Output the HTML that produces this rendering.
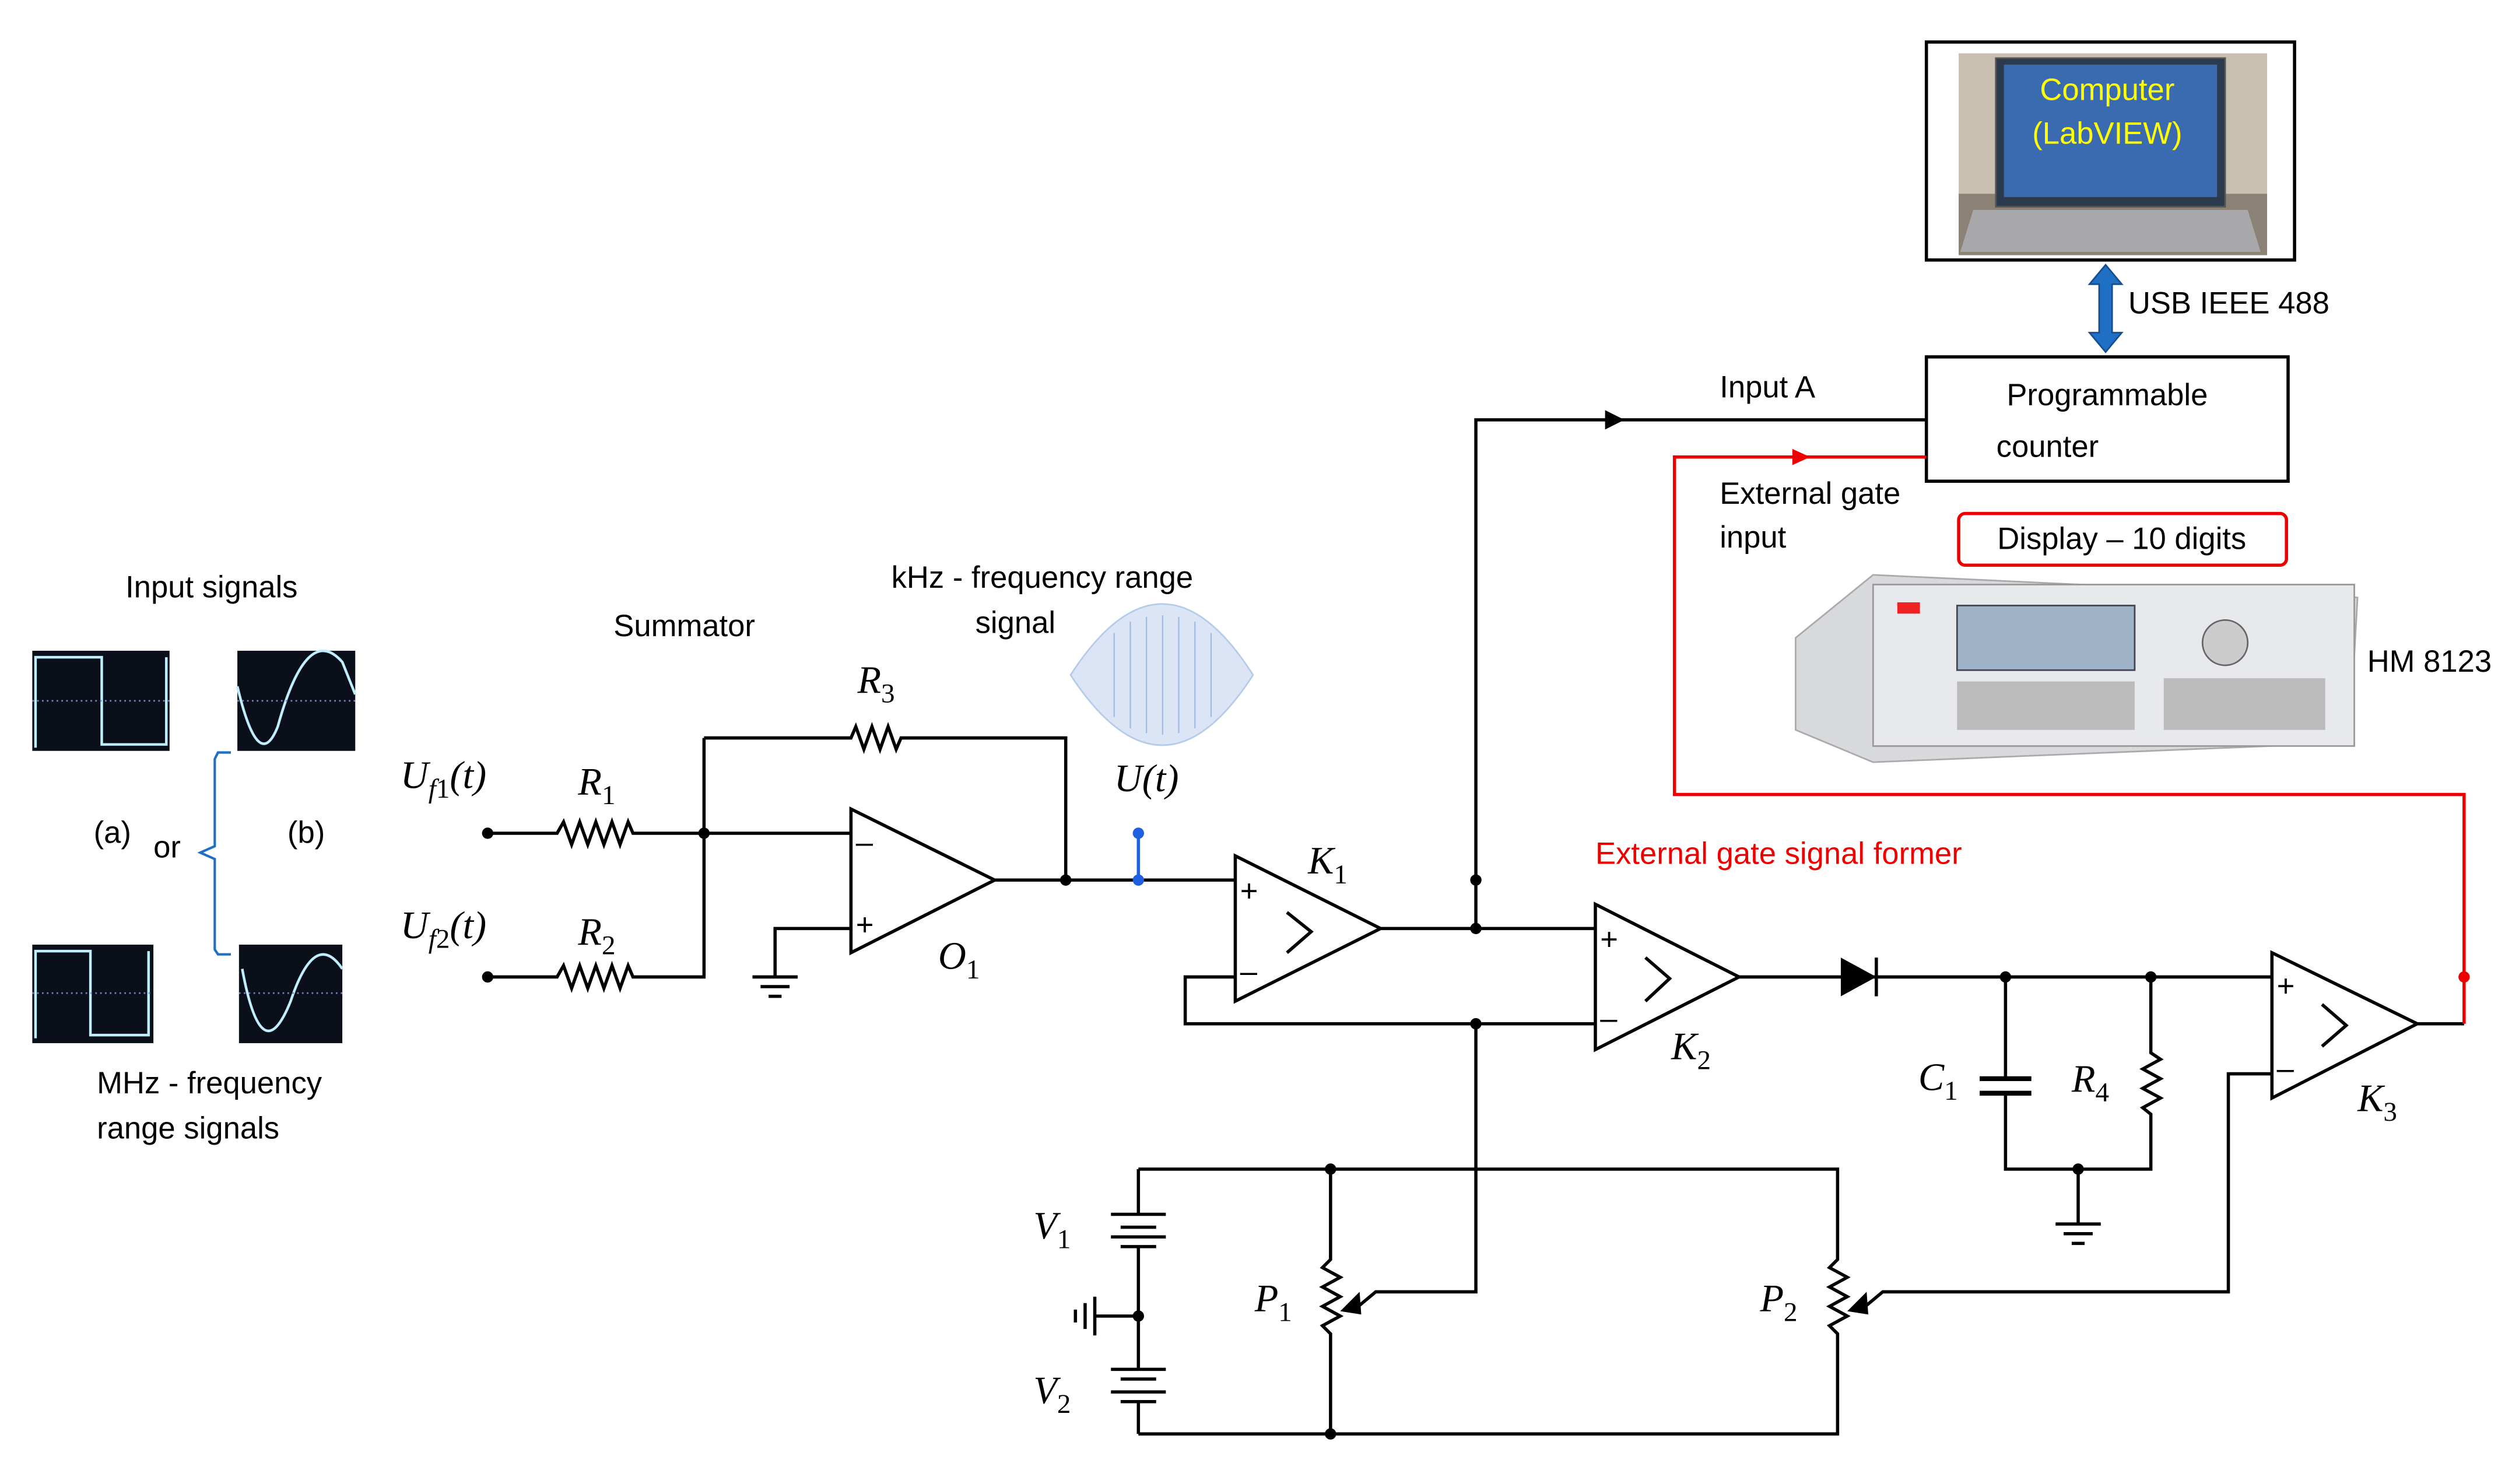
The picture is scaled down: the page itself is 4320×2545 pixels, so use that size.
<!DOCTYPE html>
<html><head><meta charset="utf-8"><style>
html,body{margin:0;padding:0;background:#fff;}
svg{display:block;}
.t{font-family:"Liberation Sans",sans-serif;font-size:19px;fill:#000;}
.m{font-family:"Liberation Serif",serif;font-style:italic;font-size:24px;fill:#000;}
.s{font-family:"Liberation Serif",serif;font-style:italic;font-size:17px;}
</style></head><body>
<svg width="4320" height="2545" viewBox="0 0 1560 919" xmlns="http://www.w3.org/2000/svg">
<rect width="1560" height="919" fill="#fff"/>
<!-- Computer -->
<rect x="1193" y="26" width="228" height="135" fill="#fff" stroke="#000" stroke-width="2"/>
<rect x="1213" y="33" width="191" height="125" fill="#c9bfb0"/>
<rect x="1213" y="120" width="191" height="38" fill="#8b8175"/>
<rect x="1236" y="36" width="142" height="92" fill="#2c3a4e" stroke="#555"/>
<rect x="1241" y="40" width="132" height="82" fill="#3a6ab0"/>
<path d="M1222 130 L1392 130 L1400 156 L1214 156 Z" fill="#a8a8aa"/>
<text x="1305" y="62" text-anchor="middle" class="t" style="fill:#ffff00">Computer</text>
<text x="1305" y="89" text-anchor="middle" class="t" style="fill:#ffff00">(LabVIEW)</text>
<!-- USB arrow -->
<path d="M1300 176 L1300 206 L1294 206 L1304 218 L1314 206 L1308 206 L1308 176 L1314 176 L1304 164 L1294 176 Z" fill="#1f6fc5" stroke="#154e90"/>
<text x="1318" y="194" class="t" font-size="17">USB IEEE 488</text>
<!-- Counter -->
<rect x="1193" y="221" width="224" height="77" fill="#fff" stroke="#000" stroke-width="2"/>
<text x="1305" y="251" text-anchor="middle" class="t" font-size="22">Programmable</text>
<text x="1268" y="283" text-anchor="middle" class="t" font-size="22">counter</text>
<text x="1065" y="246" class="t" font-size="18">Input A</text>
<text x="1065" y="312" class="t" font-size="18">External gate</text>
<text x="1065" y="339" class="t" font-size="18">input</text>
<rect x="1213" y="318" width="203" height="32" rx="4" fill="#fff" stroke="#e00" stroke-width="2"/>
<text x="1314" y="340" text-anchor="middle" class="t" font-size="18">Display – 10 digits</text>
<!-- HM 8123 device -->
<path d="M1112 395 L1160 356 L1460 370 L1455 460 L1160 472 L1112 452 Z" fill="#d8d9dc" stroke="#aaa"/>
<rect x="1160" y="362" width="298" height="100" fill="#e8e9ec" stroke="#999"/>
<rect x="1212" y="375" width="110" height="40" fill="#9fb4c8" stroke="#445"/>
<circle cx="1378" cy="398" r="14" fill="#ccc" stroke="#666"/>
<rect x="1175" y="373" width="14" height="7" fill="#e22"/>
<g fill="#bbb"><rect x="1212" y="422" width="110" height="30"/><rect x="1340" y="420" width="100" height="32"/></g>
<text x="1466" y="416" class="t" font-size="18">HM 8123</text>
<text x="988" y="535" class="t" font-size="22" style="fill:#e00">External gate signal former</text>
<!-- Input signals -->
<text x="131" y="370" text-anchor="middle" class="t" font-size="18">Input signals</text>
<g fill="#0b0f1a"><rect x="20" y="403" width="85" height="62"/><rect x="147" y="403" width="73" height="62"/><rect x="20" y="585" width="75" height="61"/><rect x="148" y="585" width="64" height="61"/></g>
<g fill="none" stroke="#bfefff" stroke-width="1.6">
<path d="M22 463 L22 407 L63 407 L63 461 L103 461 L103 407"/>
<path d="M22 643 L22 589 L56 589 L56 641 L92 641 L92 589"/>
<path d="M147 425 Q160 480 172 450 Q190 385 212 410 L220 430"/>
<path d="M150 600 Q162 665 180 620 Q195 575 212 600"/>
</g>
<g stroke="#8080c0" stroke-dasharray="1 2"><line x1="20" y1="434" x2="105" y2="434"/><line x1="147" y1="434" x2="220" y2="434"/><line x1="20" y1="615" x2="95" y2="615"/><line x1="148" y1="615" x2="212" y2="615"/></g>
<text x="58" y="522" class="t" font-size="18">(a)</text>
<text x="95" y="531" class="t" font-size="18">or</text>
<text x="178" y="522" class="t" font-size="18">(b)</text>
<path d="M143 466 L135 466 L133 470 L133 524 L124 528 L133 532 L133 588 L135 591 L143 591" fill="none" stroke="#1f6fc5" stroke-width="1.5"/>
<text x="60" y="677" class="t" font-size="18">MHz - frequency</text>
<text x="60" y="705" class="t" font-size="18">range signals</text>
<text x="380" y="394" class="t" font-size="21">Summator</text>
<text x="552" y="364" class="t" font-size="18">kHz - frequency range</text>
<text x="604" y="392" class="t" font-size="18">signal</text>
<!-- AM waveform -->
<path d="M663 418 Q720 330 776 418 Q720 505 663 418 Z" fill="#dbe5f5" stroke="#b5cbea"/>
<g stroke="#9fbbe3" stroke-width="0.8">
<line x1="690" y1="392" x2="690" y2="444"/><line x1="700" y1="385" x2="700" y2="451"/><line x1="710" y1="382" x2="710" y2="454"/><line x1="720" y1="381" x2="720" y2="455"/><line x1="730" y1="382" x2="730" y2="454"/><line x1="740" y1="385" x2="740" y2="451"/><line x1="750" y1="392" x2="750" y2="444"/>
</g>
<!-- Circuit -->
<g fill="none" stroke="#000" stroke-width="2">
<path d="M436 457 L527 457 L530 450 L535 464 L540 450 L545 464 L550 450 L555 464 L558 457 L660 457 L660 545"/>
<path d="M302 516 L345 516 L349 509 L354 523 L359 509 L364 523 L369 509 L374 523 L379 509 L384 523 L389 509 L392 516 L527 516"/>
<path d="M302 605 L345 605 L349 598 L354 612 L359 598 L364 612 L369 598 L374 612 L379 598 L384 612 L389 598 L392 605 L436 605 L436 457"/>
<path d="M527 501 L527 590 L616 545 Z"/>
<path d="M527 575 L480 575 L480 605"/>
<path d="M466 605 L494 605 M471 611 L489 611 M476 617 L484 617"/>
<path d="M616 545 L765 545"/>
<path d="M765 530 L765 620 L855 575 Z"/>
<path d="M797 565 L812 577 L797 590"/>
<path d="M765 605 L734 605 L734 634 L988 634"/>
<path d="M855 575 L988 575"/>
<path d="M914 575 L914 260 L1193 260"/>
<path d="M988 560 L988 650 L1077 605 Z"/>
<path d="M1019 593 L1034 606 L1019 620"/>
<path d="M1077 605 L1407 605"/>
<path d="M914 634 L914 800 L852 800 L840 810"/>
<path d="M1242 605 L1242 668 M1242 677 L1242 724 L1332 724 L1332 690 L1327 686 L1338 680 L1327 674 L1338 668 L1327 662 L1338 656 L1332 652 L1332 605"/>
<path d="M1287 724 L1287 758 M1273 758 L1301 758 M1278 764 L1296 764 M1283 770 L1291 770"/>
<path d="M1407 590 L1407 680 L1497 634 Z"/>
<path d="M1438 622 L1453 635 L1438 648"/>
<path d="M1497 634 L1526 634"/>
<path d="M1407 665 L1380 665 L1380 800 L1166 800 L1154 810"/>
<path d="M705 724 L1138 724 L1138 780 L1133 785 L1144 791 L1133 797 L1144 803 L1133 809 L1144 815 L1133 821 L1138 826 L1138 888 L705 888"/>
<path d="M824 724 L824 780 L819 785 L830 791 L819 797 L830 803 L819 809 L830 815 L819 821 L824 826 L824 888"/>
<path d="M705 724 L705 752 M705 772 L705 848 M705 868 L705 888"/>
<path d="M688 752 L722 752 M694 760 L716 760 M688 766 L722 766 M694 772 L716 772"/>
<path d="M688 848 L722 848 M694 854 L716 854 M688 862 L722 862 M694 868 L716 868"/>
<path d="M705 815 L678 815 M678 803 L678 827 M672 807 L672 823 M666 811 L666 819"/>
</g>
<g stroke="#000" stroke-width="3"><path d="M1226 668 L1258 668 M1226 677 L1258 677"/></g>
<path d="M1140 593 L1140 617 L1162 605 Z" fill="#000"/>
<line x1="1162" y1="593" x2="1162" y2="617" stroke="#000" stroke-width="2"/>
<path d="M830 812 L842 800 L843 814 Z" fill="#000"/>
<path d="M1144 812 L1156 800 L1157 814 Z" fill="#000"/>
<path d="M994 254 L1006 260 L994 266 Z" fill="#000"/>
<path d="M1193 283 L1037 283 L1037 492 L1526 492 L1526 634" fill="none" stroke="#e00" stroke-width="2"/>
<path d="M1110 278 L1121 283 L1110 288 Z" fill="#e00"/>
<circle cx="1526" cy="605" r="3.5" fill="#e00"/>
<line x1="705" y1="516" x2="705" y2="545" stroke="#1f5fe0" stroke-width="2"/>
<circle cx="705" cy="516" r="3.5" fill="#1f5fe0"/><circle cx="705" cy="545" r="3.5" fill="#1f5fe0"/>
<g fill="#000">
<circle cx="302" cy="516" r="3.5"/><circle cx="302" cy="605" r="3.5"/><circle cx="436" cy="516" r="3.5"/>
<circle cx="660" cy="545" r="3.5"/><circle cx="914" cy="545" r="3.5"/><circle cx="914" cy="575" r="3.5"/>
<circle cx="914" cy="634" r="3.5"/><circle cx="1242" cy="605" r="3.5"/><circle cx="1332" cy="605" r="3.5"/>
<circle cx="1287" cy="724" r="3.5"/><circle cx="824" cy="724" r="3.5"/><circle cx="824" cy="888" r="3.5"/><circle cx="705" cy="815" r="3.5"/>
</g>
<g class="t" font-size="20">
<text x="530" y="528">–</text><text x="530" y="579">+</text>
<text x="768" y="558">+</text><text x="768" y="608">–</text>
<text x="991" y="588">+</text><text x="991" y="637">–</text>
<text x="1410" y="617">+</text><text x="1410" y="668">–</text>
</g>
<text x="248" y="488" class="m">U<tspan class="s" dy="6">f</tspan><tspan class="s" style="font-style:normal">1</tspan><tspan dy="-6">(t)</tspan></text>
<text x="248" y="581" class="m">U<tspan class="s" dy="6">f</tspan><tspan class="s" style="font-style:normal">2</tspan><tspan dy="-6">(t)</tspan></text>
<text x="358" y="492" class="m">R<tspan class="s" style="font-style:normal" dy="6">1</tspan></text>
<text x="358" y="585" class="m">R<tspan class="s" style="font-style:normal" dy="6">2</tspan></text>
<text x="531" y="429" class="m">R<tspan class="s" style="font-style:normal" dy="6">3</tspan></text>
<text x="690" y="490" class="m" font-size="22">U(t)</text>
<text x="581" y="600" class="m">O<tspan class="s" style="font-style:normal" dy="6">1</tspan></text>
<text x="810" y="541" class="m">K<tspan class="s" style="font-style:normal" dy="6">1</tspan></text>
<text x="1035" y="656" class="m">K<tspan class="s" style="font-style:normal" dy="6">2</tspan></text>
<text x="1460" y="688" class="m">K<tspan class="s" style="font-style:normal" dy="6">3</tspan></text>
<text x="1188" y="675" class="m">C<tspan class="s" style="font-style:normal" dy="6">1</tspan></text>
<text x="1283" y="676" class="m">R<tspan class="s" style="font-style:normal" dy="6">4</tspan></text>
<text x="640" y="767" class="m">V<tspan class="s" style="font-style:normal" dy="6">1</tspan></text>
<text x="640" y="869" class="m">V<tspan class="s" style="font-style:normal" dy="6">2</tspan></text>
<text x="777" y="812" class="m">P<tspan class="s" style="font-style:normal" dy="6">1</tspan></text>
<text x="1090" y="812" class="m">P<tspan class="s" style="font-style:normal" dy="6">2</tspan></text>
</svg>
</body></html>
